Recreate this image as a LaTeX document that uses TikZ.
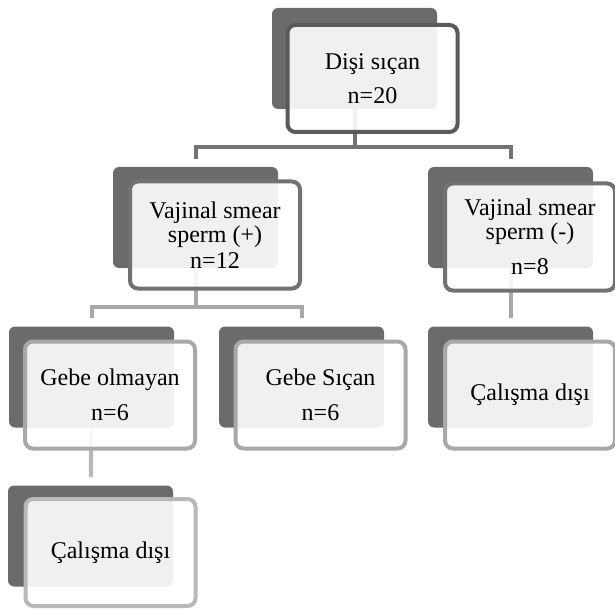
\documentclass[tikz,border=0pt]{standalone}
\usepackage{fontspec}
\setmainfont{Liberation Serif}
\usetikzlibrary{backgrounds}
\definecolor{backgray}{HTML}{6B6B6B}
\definecolor{topline}{HTML}{5A5A5A}
\definecolor{midline}{HTML}{727272}
\definecolor{lowline}{HTML}{A8A8A8}
\definecolor{lastline}{HTML}{B8B8B8}

\begin{document}
\begin{tikzpicture}[
  x=0.5pt,
  y=-0.5pt,
  every node/.style={font=\fontsize{12}{12}\selectfont,inner sep=0pt},
  back/.style={fill=backgray,rounded corners=3pt,minimum width=82.5pt,minimum height=50.5pt},
  front/.style={draw,line width=2pt,fill=white,fill opacity=0.9,text opacity=1,
    rounded corners=4pt,minimum width=85pt,minimum height=53.5pt,align=center},
  link/.style={line width=2pt,shorten >=4pt}
]
\useasboundingbox (0,0) rectangle (615,609);

% Top
\node[back] (top-b) at (354.5,58.5) {};
\node[front,draw=topline] (top) at (372.5,78.5) {Dişi sıçan\\[5pt]n=20};

% Second level
\node[back] (pos-b) at (195.5,217.5) {};
\node[front,draw=midline] (pos) at (215,235) {Vajinal smear\\sperm (+)\\[1pt]n=12};
\node[back] (neg-b) at (510.5,217.5) {};
\node[front,draw=midline] (neg) at (530,237) {Vajinal smear\\sperm (-)\\[5.5pt]n=8};

% Third level
\node[back] (non-b) at (91.5,377) {};
\node[front,draw=lowline] (non) at (110,395) {Gebe olmayan\\[5.5pt]n=6};
\node[back] (preg-b) at (301.5,377) {};
\node[front,draw=lowline] (preg) at (320.5,395) {Gebe Sıçan\\[5.5pt]n=6};
\node[back] (out2-b) at (510.5,377) {};
\node[front,draw=lowline] (out2) at (530,395) {Çalışma dışı};

% Fourth level
\node[back] (out1-b) at (90.5,536) {};
\node[front,draw=lastline] (out1) at (110.5,552.5) {Çalışma dışı};

% Connectors
\coordinate (bar1) at (0,147);
\coordinate (bar2) at (0,307);
\begin{pgfonlayer}{background}
\draw[link,midline] (top-b) -- (top-b |- bar1) -| (pos-b);
\draw[link,midline] (top-b) -- (top-b |- bar1) -| (neg-b);
\draw[link,lowline] (pos-b) -- (pos-b |- bar2) -| (non-b);
\draw[link,lowline] (pos-b) -- (pos-b |- bar2) -| (preg-b);
\draw[link,lowline] (neg-b) -- (out2-b);
\draw[link,lastline] (non-b) -- (out1-b);
\end{pgfonlayer}
\end{tikzpicture}
\end{document}
